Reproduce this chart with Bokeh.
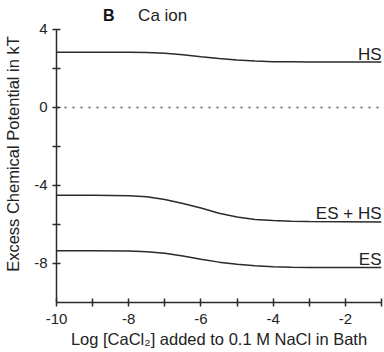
from bokeh.plotting import figure
from bokeh.models import Range1d, FixedTicker, Label
from bokeh.embed import file_html
from bokeh.resources import INLINE

# Log of CaCl2 concentration added to 0.1 M NaCl bath
log_conc = [-10, -9, -8, -7.5, -7, -6.5, -6, -5.5, -5, -4.5, -4, -3.5, -3, -2, -1]

# Excess chemical potential of Ca ion (kT)
hs = [2.83, 2.83, 2.83, 2.82, 2.78, 2.70, 2.60, 2.51, 2.43, 2.38, 2.35, 2.34, 2.33, 2.33, 2.33]
es_hs = [-4.50, -4.50, -4.52, -4.58, -4.72, -4.92, -5.15, -5.42, -5.62, -5.74, -5.80, -5.83, -5.85, -5.86, -5.87]
es = [-7.34, -7.34, -7.36, -7.40, -7.48, -7.62, -7.78, -7.93, -8.04, -8.12, -8.17, -8.19, -8.20, -8.21, -8.21]

series_names = ["HS", "ES + HS", "ES"]

x_ticks = [-10, -9, -8, -7, -6, -5, -4, -3, -2, -1]
y_ticks = [-8, -6, -4, -2, 0, 2, 4]
x_tick_labels = {t: (str(t) if t % 2 == 0 else "") for t in x_ticks}
y_tick_labels = {t: (str(t) if t % 4 == 0 else "") for t in y_ticks}

FONT = "Liberation Sans"
INK = "#2a2a2a"
TEXT = "#222222"

# y range runs a little above 4 so the panel heading sits inside the frame;
# the left axis itself is bounded to -10..4
p = figure(width=384, height=352, output_backend="svg", toolbar_location=None,
           x_range=Range1d(-10, -1), y_range=Range1d(-10, 5.23),
           min_border_left=56, min_border_right=3, min_border_top=5, min_border_bottom=50)
p.outline_line_color = None
p.grid.visible = False
p.background_fill_color = "white"
p.border_fill_color = "white"

for ax in (p.xaxis[0], p.yaxis[0]):
    ax.axis_line_color = INK
    ax.axis_line_width = 1.5
    ax.major_tick_line_color = INK
    ax.major_tick_line_width = 1.5
    ax.major_tick_in = 4
    ax.major_tick_out = 4
    ax.minor_tick_line_color = None
    ax.major_label_text_font = FONT
    ax.major_label_text_font_size = "15px"
    ax.major_label_text_color = TEXT
    ax.axis_label_text_font = FONT
    ax.axis_label_text_font_size = "16.5px"
    ax.axis_label_text_font_style = "normal"
    ax.axis_label_text_color = TEXT

xa = p.xaxis[0]
xa.ticker = FixedTicker(ticks=x_ticks)
xa.major_label_overrides = x_tick_labels
xa.major_label_standoff = 7
xa.axis_label = "Log [CaCl\u2082] added to 0.1 M NaCl in Bath"
xa.axis_label_standoff = 3

ya = p.yaxis[0]
ya.ticker = FixedTicker(ticks=y_ticks)
ya.major_label_overrides = y_tick_labels
ya.major_label_standoff = 5
ya.bounds = (-10, 4)
ya.axis_label = "Excess Chemical Potential in kT"
ya.axis_label_standoff = 9

# zero reference line
p.line([-10, -1], [0, 0], line_color="#555555", line_width=1.6, line_dash="2 6")

for ys in (hs, es_hs, es):
    p.line(log_conc, ys, line_color=INK, line_width=1.5)

for name, ys in zip(series_names, (hs, es_hs, es)):
    p.add_layout(Label(x=log_conc[-1], y=ys[-1], text=name, text_align="right",
                       text_baseline="alphabetic", y_offset=8, text_font=FONT,
                       text_font_size="17px", text_color=TEXT))

# panel heading
p.add_layout(Label(x=-8.71, y=4.74, text="B", text_align="left", text_baseline="middle",
                   text_font=FONT, text_font_style="bold", text_font_size="16px",
                   text_color="#111111"))
p.add_layout(Label(x=-7.74, y=4.72, text="Ca ion", text_align="left", text_baseline="middle",
                   text_font=FONT, text_font_size="17px", text_color=TEXT))

open("out.html", "w").write(file_html(p, INLINE))
